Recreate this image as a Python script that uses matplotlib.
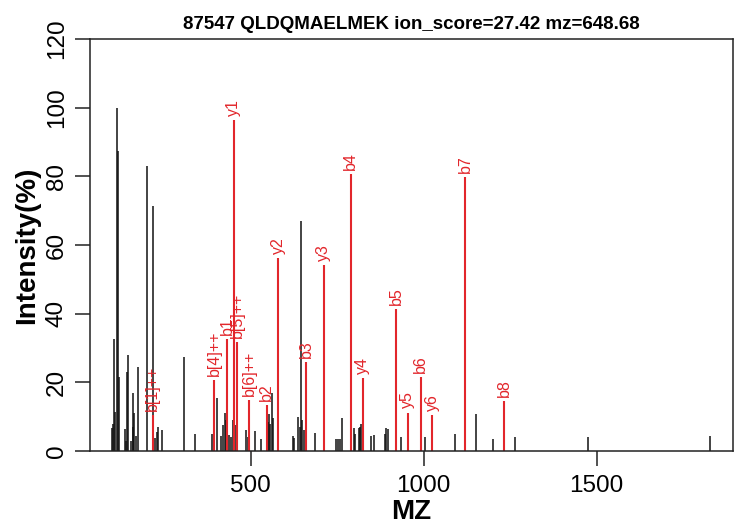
import matplotlib
matplotlib.use("Agg")
import matplotlib.pyplot as plt

plt.rcParams['font.family'] = ['Liberation Sans', 'DejaVu Sans']

title = "87547 QLDQMAELMEK ion_score=27.42 mz=648.68"

# unmatched peaks (black)
peak_mz = [100, 103, 105, 108, 114.5, 118, 121, 137, 140, 143.5, 146, 156, 159, 161,
           164, 169, 175, 201.5, 219, 224, 229, 233, 245, 307, 340, 390, 404, 414,
           419, 427, 430, 437, 443, 449, 456, 488, 492, 513, 531, 549, 553, 557,
           562, 565, 622, 626, 636, 642, 647, 650, 654, 685, 748, 752, 758, 763,
           799, 801, 813, 817, 820, 849, 857, 888, 892, 898, 934, 1005, 1091, 1151,
           1201, 1264, 1474, 1827]
peak_int = [6.6, 8, 32.6, 11.5, 100, 87.5, 21.5, 6.3, 3, 23, 28, 3, 7, 17,
            11, 4.5, 24.5, 83, 71.3, 3.8, 5.5, 7, 6, 27.3, 4.9, 5, 15.4, 4.4,
            7.5, 11, 9, 4.6, 4, 9, 7.5, 6, 4.2, 5.8, 3.6, 8.5, 10.8, 8,
            17, 9.5, 4.4, 3.8, 9.8, 7, 67, 9, 6, 5.3, 3.5, 3.5, 3.5, 9.5,
            6.7, 5, 6.7, 7, 8, 4.4, 4.6, 5, 6.6, 6.4, 4.2, 4, 5.1, 10.8,
            3.4, 4, 4.2, 4.3]

# matched fragment ions (red)
ion_labels = ["b[1]++", "b[4]++", "b1", "b[5]++", "y1", "b[6]++", "b2", "y2", "b3",
              "y3", "b4", "y4", "b5", "y5", "b6", "y6", "b7", "b8"]
ion_mz = [217.1, 395.2, 433.3, 460.7, 451.3, 496.3, 546.4, 580.4, 661.4,
          711.4, 789.4, 824.5, 920.5, 953.5, 991.5, 1024.6, 1120.6, 1233.7]
ion_int = [10.5, 20.7, 32.6, 31.7, 96.4, 14.9, 13.4, 56.2, 26,
           54.2, 80.6, 21.3, 41.4, 11.2, 21.5, 10.5, 79.8, 14.6]

red = '#E2262B'

fig = plt.figure(figsize=(7.35, 5.29), dpi=100)
ax = fig.add_axes([0.1224, 0.1474, 0.8749, 0.7789])

ax.vlines(peak_mz, 0, peak_int, color='#111111', linewidth=1.1)
ax.vlines(ion_mz, 0, ion_int, color=red, linewidth=1.5)
for lab, x, y in zip(ion_labels, ion_mz, ion_int):
    ax.annotate(lab, (x, y), xytext=(0, 3), textcoords='offset points',
                rotation=90, ha='center', va='bottom', color=red, fontsize=11.5)

ax.set_xlim(36, 1894)
ax.set_ylim(0, 120)
ax.set_xticks([500, 1000, 1500])
ax.set_yticks([0, 20, 40, 60, 80, 100, 120])
ax.tick_params(axis='both', direction='out', length=10.5, width=1.1,
               labelsize=17.5, color='#222222')
ax.tick_params(axis='x', pad=6.5)
ax.tick_params(axis='y', pad=5.5, labelrotation=90)
for lbl in ax.get_yticklabels():
    lbl.set_va('center')
for sp in ax.spines.values():
    sp.set_linewidth(1.1)
    sp.set_color('#222222')

ax.set_title(title, fontsize=13.5, fontweight='bold', pad=7)
ax.set_xlabel("MZ", fontsize=20, fontweight='bold', labelpad=2)
ax.set_ylabel("Intensity(%)", fontsize=20, fontweight='bold', labelpad=4)

fig.savefig("out.png", dpi=100)
